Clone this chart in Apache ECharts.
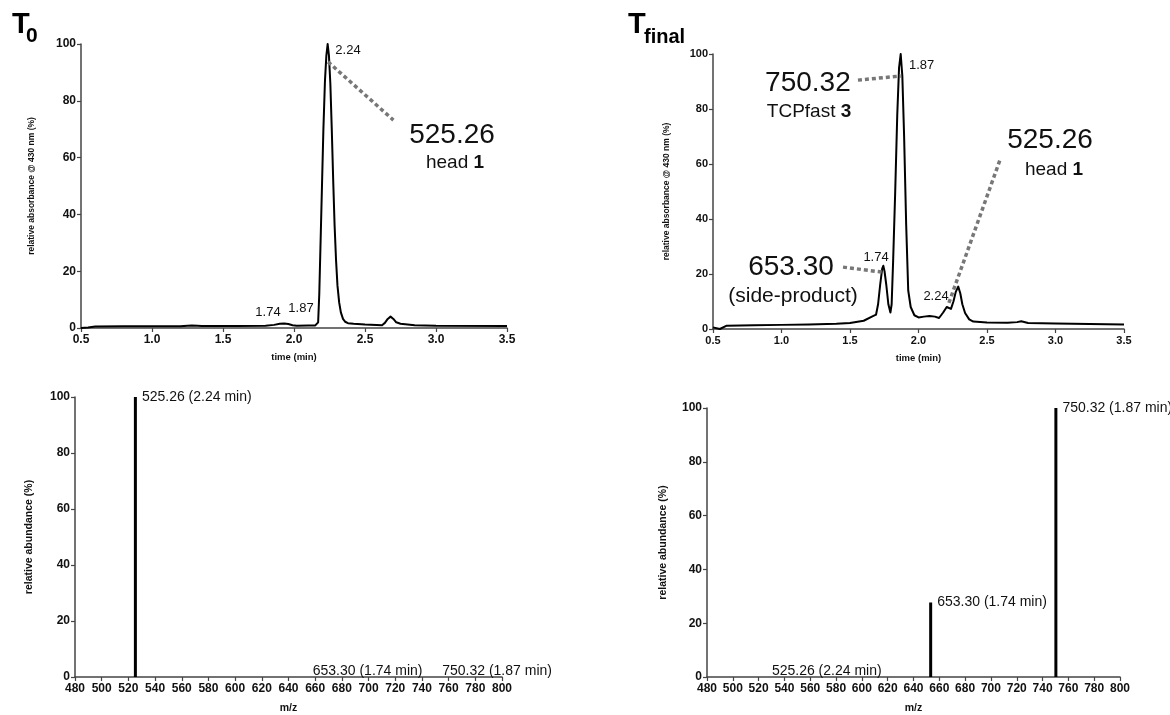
<!DOCTYPE html>
<html>
<head>
<meta charset="utf-8">
<script src="https://cdn.jsdelivr.net/npm/echarts@6/dist/echarts.min.js"></script>
<style>
  html, body { margin: 0; padding: 0; background: #fff; }
  #main { width: 1170px; height: 715px; }
</style>
</head>
<body>
<div id="main"></div>
<script>
// chromatogram T0 (time in min, relative absorbance %)
let t0Time = [0.50, 0.55, 0.60, 0.80, 1.00, 1.20, 1.25, 1.28, 1.32, 1.35, 1.60, 1.80, 1.86, 1.90, 1.93, 1.96, 1.99,
  2.02, 2.10, 2.15, 2.17, 2.178, 2.186, 2.197, 2.207, 2.218, 2.228, 2.237, 2.246, 2.256, 2.266, 2.276, 2.286,
  2.296, 2.306, 2.318, 2.33, 2.345, 2.36, 2.38, 2.42, 2.50, 2.62, 2.64, 2.66, 2.68, 2.70, 2.72,
  2.75, 2.85, 3.00, 3.50]
let t0Abs = [0.0, 0.2, 0.5, 0.6, 0.6, 0.6, 0.8, 0.9, 0.8, 0.7, 0.7, 0.8, 1.1, 1.5, 1.6, 1.4, 1.0,
  0.8, 0.9, 0.9, 2, 12, 28, 50, 70, 87, 96, 100, 96, 86, 70, 52, 36,
  24, 15, 9, 5.5, 3.2, 2.2, 1.7, 1.5, 1.2, 1.0, 1.8, 3.2, 4.0, 3.2, 2.0,
  1.5, 1.0, 0.8, 0.7]

// chromatogram Tfinal
let tfTime = [0.50, 0.55, 0.60, 0.80, 1.00, 1.20, 1.40, 1.50, 1.60, 1.66, 1.69, 1.705, 1.72, 1.735, 1.743, 1.752,
  1.765, 1.78, 1.795, 1.804, 1.815, 1.83, 1.845, 1.858, 1.870, 1.882, 1.895, 1.91, 1.925, 1.943, 1.97, 2.00,
  2.04, 2.08, 2.12, 2.15, 2.18, 2.206, 2.237, 2.255, 2.272, 2.29, 2.305, 2.32, 2.34, 2.37, 2.40, 2.50,
  2.65, 2.72, 2.75, 2.80, 3.00, 3.50]
let tfAbs = [0.6, 0.0, 1.2, 1.4, 1.5, 1.6, 1.9, 2.2, 3.0, 4.5, 5.2, 9, 16, 22, 23, 21,
  16, 9, 6, 9, 25, 50, 78, 95, 100, 92, 70, 38, 14, 8, 5, 4.2,
  4.5, 4.7, 4.5, 4.0, 6, 8, 7.3, 10, 13.5, 15.4, 13, 9, 5.8, 3.5, 2.7, 2.4,
  2.3, 2.5, 2.8, 2.2, 2.0, 1.6]

// mass spectra (m/z, relative abundance %)
let msMz = [525.26, 653.30, 750.32]
let msRt = ['2.24', '1.74', '1.87']
let ms0Abund = [100, 0, 0]
let msFAbund = [0, 27.7, 100]

let font = "'Liberation Sans', Arial, sans-serif"
let axisColor = '#444'

let pairs = (xs, ys) => xs.map((x, i) => [x, ys[i]])

let timeAxis = (grid, size) => ({
  type: 'value', gridIndex: grid, min: 0.5, max: 3.5, interval: 0.5,
  name: 'time (min)', nameLocation: 'middle', nameGap: 24,
  nameTextStyle: { fontFamily: font, fontWeight: 'bold', fontSize: 9.5, color: '#111' },
  axisLine: { onZero: false, lineStyle: { color: axisColor, width: 1.5 } },
  axisTick: { length: 4, lineStyle: { color: axisColor, width: 1.2 } },
  axisLabel: { fontFamily: font, fontWeight: 'bold', fontSize: size, color: '#111', margin: 6,
    formatter: v => v.toFixed(1) },
  splitLine: { show: false }
})

let mzAxis = grid => ({
  type: 'value', gridIndex: grid, min: 480, max: 800, interval: 20,
  name: 'm/z', nameLocation: 'middle', nameGap: 26,
  nameTextStyle: { fontFamily: font, fontWeight: 'bold', fontSize: 10.5, color: '#111' },
  axisLine: { onZero: false, lineStyle: { color: axisColor, width: 1.5 } },
  axisTick: { length: 4, lineStyle: { color: axisColor, width: 1.2 } },
  axisLabel: { fontFamily: font, fontWeight: 'bold', fontSize: 12, color: '#111', margin: 6 },
  splitLine: { show: false }
})

let pctAxis = (grid, name, nameSize, nameGap, size) => ({
  type: 'value', gridIndex: grid, min: 0, max: 100, interval: 20,
  name: name, nameLocation: 'middle', nameGap: nameGap,
  nameTextStyle: { fontFamily: font, fontWeight: 'bold', fontSize: nameSize, color: '#111' },
  axisLine: { show: true, lineStyle: { color: axisColor, width: 1.5 } },
  axisTick: { show: true, length: 4, lineStyle: { color: axisColor, width: 1.2 } },
  axisLabel: { fontFamily: font, fontWeight: 'bold', fontSize: size, color: '#111', margin: 5 },
  splitLine: { show: false }
})

let txt = (coord, text, size, bold) => ({
  coord: coord, value: text,
  label: { show: true, position: 'inside', formatter: text, fontFamily: font, fontSize: size,
    fontWeight: bold ? 'bold' : 'normal', color: '#111',
    rich: { b: { fontFamily: font, fontSize: size, fontWeight: 'bold', color: '#111' } } }
})

let dotted = segs => ({
  symbol: 'none', silent: true, animation: false,
  label: { show: false },
  lineStyle: { color: '#777', width: 3.5, type: [4, 3], cap: 'butt' },
  data: segs.map(s => [{ coord: s[0] }, { coord: s[1] }])
})

let msLabel = (i, abund) => ({
  value: [msMz[i], abund[i]],
  label: {
    show: true, formatter: msMz[i].toFixed(2) + ' (' + msRt[i] + ' min)',
    position: abund[i] > 0 ? [8, 0] : [8, -6], align: 'left', verticalAlign: 'middle',
    fontFamily: font, fontSize: 14, color: '#111'
  }
})

let myChart = echarts.init(document.getElementById('main'))

myChart.setOption({
  animation: false,
  grid: [
    { left: 81, top: 44, width: 426, height: 284 },
    { left: 713, top: 54, width: 411, height: 275 },
    { left: 75, top: 397, width: 427, height: 284 },
    { left: 707, top: 408, width: 413, height: 274 }
  ],
  xAxis: [timeAxis(0, 12), timeAxis(1, 11), mzAxis(2), mzAxis(3)],
  yAxis: [
    pctAxis(0, 'relative absorbance @ 430 nm (%)', 8.5, 45, 12),
    pctAxis(1, 'relative absorbance @ 430 nm (%)', 8.5, 42, 11),
    pctAxis(2, 'relative abundance (%)', 10.5, 40, 12),
    pctAxis(3, 'relative abundance (%)', 10.5, 38, 12)
  ],
  graphic: [
    { type: 'text', left: 12, top: 10, style: { text: 'T', font: 'bold 29px ' + font, fill: '#000' } },
    { type: 'text', left: 26, top: 26, style: { text: '0', font: 'bold 21px ' + font, fill: '#000' } },
    { type: 'text', left: 628, top: 10, style: { text: 'T', font: 'bold 29px ' + font, fill: '#000' } },
    { type: 'text', left: 644, top: 27, style: { text: 'final', font: 'bold 20px ' + font, fill: '#000' } }
  ],
  series: [
    {
      type: 'line', xAxisIndex: 0, yAxisIndex: 0, data: pairs(t0Time, t0Abs),
      symbol: 'none', smooth: false,
      lineStyle: { color: '#000', width: 2, join: 'round' },
      markLine: dotted([[[2.24, 93.7], [2.70, 73.2]]]),
      markPoint: {
        symbol: 'circle', symbolSize: 0, silent: true,
        data: [
          txt([3.113, 68.0], '525.26', 28),
          txt([3.134, 58.1], 'head {b|1}', 19),
          txt([2.380, 97.9], '2.24', 13),
          txt([1.817, 5.6], '1.74', 13),
          txt([2.049, 7.0], '1.87', 13)
        ]
      }
    },
    {
      type: 'line', xAxisIndex: 1, yAxisIndex: 1, data: pairs(tfTime, tfAbs),
      symbol: 'none', smooth: false,
      lineStyle: { color: '#000', width: 2, join: 'round' },
      markLine: dotted([
        [[1.558, 90.5], [1.87, 92]],
        [[1.449, 22.5], [1.734, 20.7]],
        [[2.222, 9.5], [2.595, 61.5]]
      ]),
      markPoint: {
        symbol: 'circle', symbolSize: 0, silent: true,
        data: [
          txt([1.193, 89.5], '750.32', 28),
          txt([1.201, 78.9], 'TCPfast {b|3}', 19),
          txt([1.069, 22.5], '653.30', 28),
          txt([1.084, 12.0], '(side-product)', 21),
          txt([2.960, 68.7], '525.26', 28),
          txt([2.989, 57.8], 'head {b|1}', 19),
          txt([2.128, 12.0], '2.24', 13),
          txt([2.023, 96.0], '1.87', 13),
          txt([1.690, 26.2], '1.74', 13)
        ]
      }
    },
    {
      type: 'bar', xAxisIndex: 2, yAxisIndex: 2, barWidth: 3,
      itemStyle: { color: '#000' },
      data: msMz.map((m, i) => msLabel(i, ms0Abund))
    },
    {
      type: 'bar', xAxisIndex: 3, yAxisIndex: 3, barWidth: 3,
      itemStyle: { color: '#000' },
      data: msMz.map((m, i) => msLabel(i, msFAbund))
    }
  ]
})
</script>
</body>
</html>
